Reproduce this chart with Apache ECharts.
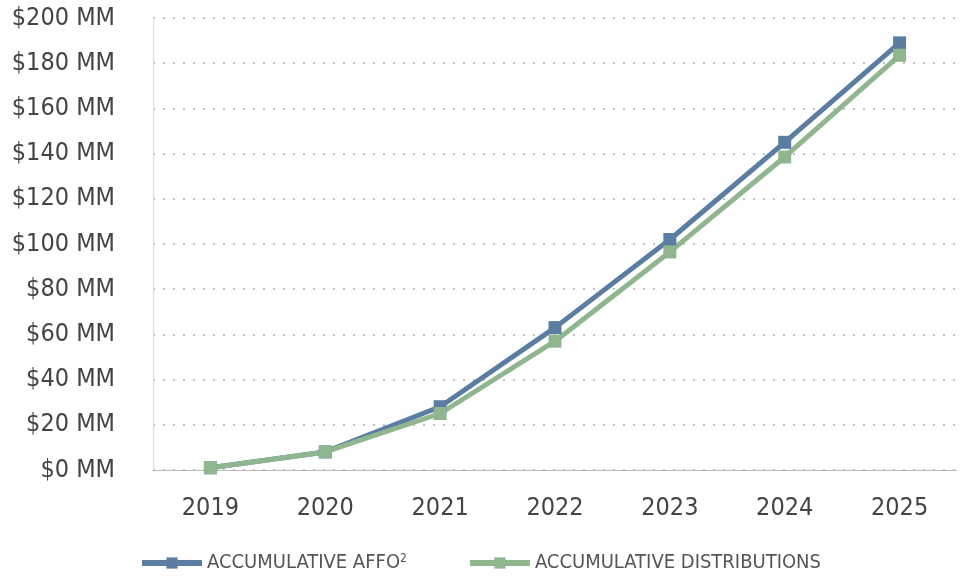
<!DOCTYPE html>
<html><head><meta charset="utf-8">
<script src="https://cdn.jsdelivr.net/npm/echarts@6/dist/echarts.min.js"></script>
<style>html,body{margin:0;padding:0;background:#fff}#c{width:960px;height:578px}</style>
</head><body><div id="c"></div>
<script>
const years = ['2019', '2020', '2021', '2022', '2023', '2024', '2025']
const affo = [1, 8, 28, 63, 102, 145, 189]
const distributions = [1, 8, 25, 57, 96.5, 138.5, 183.5]

const font = '"DejaVu Sans Condensed", "Liberation Sans Narrow", "Roboto", sans-serif'
const chart = echarts.init(document.getElementById('c'))

chart.setOption({
  animation: false,
  grid: { left: 153, right: 3, top: 18, bottom: 108 },
  legend: {
    bottom: 0,
    itemWidth: 60,
    itemHeight: 14,
    itemGap: 60,
    lineStyle: { width: 6 },
    textStyle: {
      fontFamily: font, fontSize: 20, color: '#555',
      rich: { sup: { fontFamily: font, fontSize: 12, color: '#555', verticalAlign: 'top', padding: [0, 0, 8, 0] } }
    },
    formatter: (n) => n === 'ACCUMULATIVE AFFO' ? 'ACCUMULATIVE AFFO{sup|2}' : n,
    data: ['ACCUMULATIVE AFFO', 'ACCUMULATIVE DISTRIBUTIONS']
  },
  xAxis: {
    type: 'category',
    data: years,
    axisLine: { lineStyle: { color: '#bbb' } },
    axisTick: { show: false },
    axisLabel: { fontFamily: font, fontSize: 25, color: '#444', margin: 26 }
  },
  yAxis: {
    type: 'value',
    min: 0, max: 200, interval: 20,
    axisLine: { show: true, lineStyle: { color: '#ddd' } },
    splitLine: { lineStyle: { type: [2, 8], color: '#aaa', width: 1.5 } },
    axisLabel: { fontFamily: font, fontSize: 25, color: '#444', margin: 38, align: 'right',
      formatter: (v) => '$' + v + ' MM' }
  },
  series: [
    {
      name: 'ACCUMULATIVE AFFO', type: 'line', data: affo,
      symbol: 'rect', symbolSize: 13,
      itemStyle: { color: '#5b7da2' },
      lineStyle: { width: 5, color: '#5b7da2' }
    },
    {
      name: 'ACCUMULATIVE DISTRIBUTIONS', type: 'line', data: distributions,
      symbol: 'rect', symbolSize: 13,
      itemStyle: { color: '#8fb68f' },
      lineStyle: { width: 5, color: '#8fb68f' }
    }
  ]
})
</script></body></html>
